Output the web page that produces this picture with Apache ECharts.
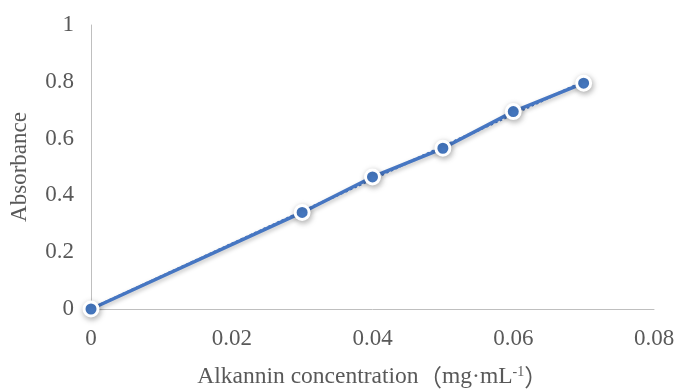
<!DOCTYPE html>
<html><head><meta charset="utf-8">
<script src="https://cdn.jsdelivr.net/npm/echarts@6/dist/echarts.min.js"></script>
<style>html,body{margin:0;padding:0;background:#fff}#c{width:678px;height:389px}</style>
</head><body><div id="c"></div>
<script>
const concentration = [0, 0.03, 0.04, 0.05, 0.06, 0.07];
const absorbance = [0, 0.34, 0.465, 0.566, 0.695, 0.795];
const xTicks = [0, 0.02, 0.04, 0.06, 0.08];
const yTicks = [0, 0.2, 0.4, 0.6, 0.8, 1];

// linear trendline (least squares) from the data
const n = concentration.length;
const mx = concentration.reduce((a,b)=>a+b,0)/n;
const my = absorbance.reduce((a,b)=>a+b,0)/n;
let sxy=0, sxx=0;
for (let i=0;i<n;i++){ sxy+=(concentration[i]-mx)*(absorbance[i]-my); sxx+=(concentration[i]-mx)**2; }
const slope = sxy/sxx, icpt = my - slope*mx;
const xs0 = concentration[0], xs1 = concentration[n-1];
const trend = [[xs0, icpt+slope*xs0],[xs1, icpt+slope*xs1]];

const font = '"Liberation Serif","Times New Roman",serif';
const cjk = '"Noto Sans CJK SC",sans-serif';
const txt = '#595959';
const blue = '#4676c2';
const chart = echarts.init(document.getElementById('c'));
chart.setOption({
  animation:false,
  grid:{left:91,right:24,top:25,bottom:80,containLabel:false,outerBoundsMode:'none'},
  xAxis:{type:'value',min:0,max:0.08,interval:0.02,
    axisLine:{show:true,lineStyle:{color:'#bfbfbf',width:1}},
    axisTick:{show:false},splitLine:{show:false},
    axisLabel:{color:txt,fontFamily:font,fontSize:23,margin:18,
      formatter:v=>{const t=xTicks.find(t=>Math.abs(t-v)<1e-9);return t===undefined?'':String(t);}},
    name:'{a|Alkannin concentration}{c|（}{a|mg·mL}{s|-1}{c|）}',
    nameLocation:'middle',nameGap:56,
    nameTextStyle:{rich:{
      a:{color:txt,fontFamily:font,fontSize:23.5},
      c:{color:txt,fontFamily:cjk,fontSize:23.5},
      s:{color:txt,fontFamily:font,fontSize:14,verticalAlign:'top',padding:[0,0,8,0]}
    }}
  },
  yAxis:{type:'value',min:0,max:1,interval:0.2,
    axisLine:{show:true,lineStyle:{color:'#bfbfbf',width:1}},
    axisTick:{show:false},splitLine:{show:false},
    axisLabel:{color:txt,fontFamily:font,fontSize:23,margin:17,
      formatter:v=>{const t=yTicks.find(t=>Math.abs(t-v)<1e-9);return t===undefined?'':String(t);}},
    name:'Absorbance',nameLocation:'middle',nameGap:60,
    nameTextStyle:{color:txt,fontFamily:font,fontSize:23}
  },
  series:[
    {type:'line',data:trend,symbol:'none',silent:true,z:1,
      lineStyle:{color:blue,width:2.5,type:'dotted'}},
    {type:'line',data:concentration.map((x,i)=>[x,absorbance[i]]),
      symbol:'circle',symbolSize:14,z:2,
      lineStyle:{color:blue,width:3.5,shadowBlur:4,shadowColor:'rgba(0,0,0,0.25)',shadowOffsetX:1,shadowOffsetY:2},
      itemStyle:{color:'#4a7fcc',borderColor:'#fff',borderWidth:3,shadowBlur:6,shadowColor:'rgba(0,0,0,0.3)',shadowOffsetX:1,shadowOffsetY:2}
    }
  ]
});
</script></body></html>
